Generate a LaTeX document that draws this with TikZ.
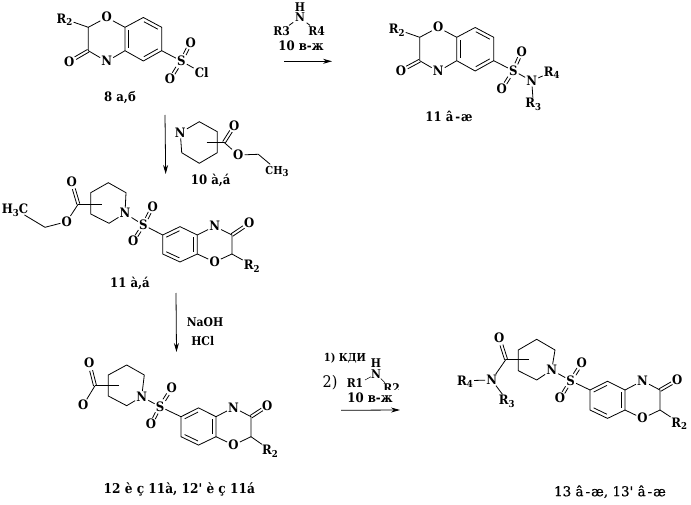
\documentclass[tikz,border=0pt]{standalone}
\usepackage{fontspec}
\setmainfont[FakeStretch=0.9,Ligatures=TeXOff]{DejaVu Serif}
\newfontfamily\widef[Ligatures=TeXOff,FakeBold=0.5]{DejaVu Serif}
\usetikzlibrary{calc,arrows.meta}
\tikzset{
  atom/.style={inner sep=1pt,font=\fontsize{13}{13}\selectfont\bfseries,text height=9pt,text depth=0pt},
  lbl/.style={inner sep=0pt,font=\fontsize{13}{14}\selectfont\bfseries},
  reag/.style={inner sep=0pt,font=\fontsize{12}{13}\selectfont\bfseries},
  bond/.style={line width=.8pt,black},
  rx/.style={line width=.8pt,-{Stealth[length=9pt,width=5pt]}}
}
\newcommand{\rsub}[1]{\raisebox{-2.5pt}{\fontsize{9.5}{9.5}\selectfont #1}}
\newcommand{\inbond}[2]{\draw[bond] ($(#1)!.12!(#2)!3.5pt!-90:(#2)$) -- ($(#2)!.12!(#1)!3.5pt!90:(#1)$);}
\newcommand{\dbond}[4]{%
  \draw[bond] ($(#1)!#3!(#2)!1.5pt!90:(#2)$) -- ($(#1)!#4!(#2)!1.5pt!90:(#2)$);
  \draw[bond] ($(#1)!#3!(#2)!1.5pt!-90:(#2)$) -- ($(#1)!#4!(#2)!1.5pt!-90:(#2)$);}
% benzoxazinone core: prefix, x, y of C4a, half width, height (both negative = rotated)
\newcommand{\core}[5]{%
  \coordinate (#1a) at (#2,#3);
  \coordinate (#1b) at ({#2},{#3-#5});
  \node[atom] (#1O) at ({#2-.5*#4},{#3-1.42*#5}) {O};
  \coordinate (#1c2) at ({#2-#4},{#3-#5});
  \coordinate (#1c3) at ({#2-#4},{#3});
  \node[atom] (#1N) at ({#2-.5*#4},{#3+.46*#5}) {N};
  \coordinate (#1c5) at ({#2+.5*#4},{#3+.44*#5});
  \coordinate (#1c6) at ({#2+#4},{#3});
  \coordinate (#1c7) at ({#2+#4},{#3-#5});
  \coordinate (#1c8) at ({#2+.5*#4},{#3-1.42*#5});
  \draw[bond] (#1a)--(#1b)--(#1c8)--(#1c7)--(#1c6)--(#1c5)--cycle;
  \draw[bond] (#1b)--(#1O)--(#1c2)--(#1c3)--(#1N)--(#1a);
  \inbond{#1a}{#1b}\inbond{#1c8}{#1c7}\inbond{#1c6}{#1c5}}
\begin{document}
\begin{tikzpicture}[x=1pt,y=-1pt]
\useasboundingbox (0,0) rectangle (691,505);
\fill[white] (0,0) rectangle (691,505);

% ---- 8
\core{A}{125}{50.7}{36.7}{23.4}
\node[atom] (AR) at (64.5,19) {R\rsub{2}};
\node[atom] (AOc) at (69.3,61.7) {O};
\node[atom] (AS) at (181.3,61) {S};
\node[atom] (AO1) at (190.7,42.7) {O};
\node[atom] (AO2) at (170,79.3) {O};
\node[atom] (ACl) at (201.7,72.7) {Cl};
\draw[bond] (AR)--(Ac2);
\dbond{Ac3}{AOc}{0}{.68}
\draw[bond] (Ac6)--(AS);\draw[bond] (AS)--(ACl);
\dbond{AS}{AO1}{.36}{.68}\dbond{AS}{AO2}{.36}{.68}
\node[lbl] (A8) at (120,97.7) {8 а,б};

% ---- reagent top
\node[reag] (RH) at (300,7) {H};
\node[reag] (RN) at (300,17.5) {N};
\node[reag] (R3) at (281.7,30.7) {R3};
\node[reag] (R4) at (316.7,30.7) {R4};
\draw[bond,shorten <=2pt,shorten >=1pt] (RN)--(R3);
\draw[bond,shorten <=2pt,shorten >=1pt] (RN)--(R4);
\node[lbl] (R10) at (301,46) {10 в-ж};
\coordinate (Ar1s) at (284,61.3);\coordinate (Ar1e) at (332,61.3);
\draw[rx] (Ar1s)--(Ar1e);

% ---- 11 top right
\core{B}{456.7}{60.7}{37}{23.4}
\node[atom] (BR) at (396.7,29.3) {R\rsub{2}};
\node[atom] (BOc) at (401,70.7) {O};
\node[atom] (BS) at (513.3,70.7) {S};
\node[atom] (BO1) at (521.7,51.7) {O};
\node[atom] (BO2) at (501.7,89.3) {O};
\node[atom] (BNs) at (531.7,81) {N};
\node[atom] (BR4) at (551.7,71.7) {R\rsub{4}};
\node[atom] (BR3) at (533.3,103.3) {R\rsub{3}};
\draw[bond] (BR)--(Bc2);
\dbond{Bc3}{BOc}{0}{.68}
\draw[bond] (Bc6)--(BS);\draw[bond] (BS)--(BNs);\draw[bond] (BNs)--(BR4);\draw[bond] (BNs)--(BR3);
\dbond{BS}{BO1}{.36}{.68}\dbond{BS}{BO2}{.36}{.68}
\node[lbl] (B11) at (449,116.7) {11 â\kern2pt-\kern1ptæ};

% ---- arrow 1 down
\coordinate (Ar2s) at (165,115);\coordinate (Ar2e) at (165.7,174);
\draw[rx] (Ar2s)--(Ar2e);

% ---- 10
\node[atom] (CN) at (180.3,132.7) {N};
\coordinate (Cr1) at (199.3,121.7);\coordinate (Cr2) at (217.3,131.7);
\coordinate (Cr3) at (217.3,152.7);\coordinate (Cr4) at (199.3,163.3);
\coordinate (Cr5) at (181.7,152.7);
\draw[bond] (CN)--(Cr1)--(Cr2)--(Cr3)--(Cr4)--(Cr5)--(CN);
\coordinate (Cs) at (206.7,142.3);\coordinate (CC) at (224,142.3);
\node[atom] (CO1) at (234.3,126) {O};
\node[atom] (CO2) at (238.3,155) {O};
\coordinate (CE) at (258.3,154.3);
\node[atom,font=\fontsize{11}{12}\selectfont\bfseries] (CMe) at (277,170) {CH\rsub{3}};
\draw[bond] (Cs)--(CC);\dbond{CC}{CO1}{0}{.68}
\draw[bond] (CC)--(CO2);\draw[bond] (CO2)--(CE);\draw[bond] (CE)--(CMe);
\node[lbl] (C10) at (210.7,180) {10 à,á};

% ---- 11 a,a
\core{D}{197.3}{235}{-34.6}{-19}
\node[atom] (DR) at (251.7,265) {R\rsub{2}};
\node[atom] (DOc) at (249.3,223.3) {O};
\node[atom] (DS) at (143.3,225) {S};
\node[atom] (DO1) at (152.7,206.7) {O};
\node[atom] (DO2) at (133.3,241) {O};
\node[atom] (DNp) at (125,213.3) {N};
\coordinate (Dr1) at (126,192.7);\coordinate (Dr2) at (108.3,182.7);
\coordinate (Dr3) at (90.7,192.7);\coordinate (Dr4) at (90.7,214);
\coordinate (Dr5) at (109,223.3);
\draw[bond] (DNp)--(Dr1)--(Dr2)--(Dr3)--(Dr4)--(Dr5)--(DNp);
\coordinate (Ds) at (101.7,204);\coordinate (DC) at (78.3,204);
\node[atom] (DO3) at (71.7,181.7) {O};
\node[atom] (DO4) at (66.7,221.7) {O};
\coordinate (DE) at (45,227.3);
\node[atom] (DMe) at (15,209.3) {H\rsub{3}C};
\draw[bond] (Ds)--(DC);\dbond{DC}{DO3}{0}{.68}
\draw[bond] (DC)--(DO4);\draw[bond] (DO4)--(DE);\draw[bond] (DE)--(DMe);
\draw[bond] (DR)--(Dc2);\dbond{Dc3}{DOc}{0}{.68}
\draw[bond] (Dc6)--(DS);\draw[bond] (DS)--(DNp);
\dbond{DS}{DO1}{.36}{.68}\dbond{DS}{DO2}{.36}{.68}
\node[lbl] (D11) at (130,283.3) {11 à,á};

% ---- arrow 2 down
\coordinate (Ar3s) at (176,293);\coordinate (Ar3e) at (176.5,352);
\draw[rx] (Ar3s)--(Ar3e);
\node[reag] (RNa) at (205,321.7) {NaOH};
\node[reag] (RHCl) at (202.7,340.7) {HCl};

% ---- 12
\core{E}{216}{416.7}{-35}{-20}
\node[atom] (ER) at (270,450) {R\rsub{2}};
\node[atom] (EOc) at (267.3,406) {O};
\node[atom] (ES) at (160,406.7) {S};
\node[atom] (EO1) at (171.7,388.3) {O};
\node[atom] (EO2) at (151,424) {O};
\node[atom] (ENp) at (141.7,396.7) {N};
\coordinate (Er1) at (144.3,375);\coordinate (Er2) at (126.7,365);
\coordinate (Er3) at (108.3,375);\coordinate (Er4) at (108.3,396);
\coordinate (Er5) at (126.7,405.7);
\draw[bond] (ENp)--(Er1)--(Er2)--(Er3)--(Er4)--(Er5)--(ENp);
\coordinate (Es) at (119,385.7);\coordinate (EC) at (95,385.7);
\node[atom] (EO3) at (89.3,363.3) {O};
\node[atom] (EO4) at (83.3,405) {O};
\draw[bond] (Es)--(EC);\dbond{EC}{EO3}{0}{.68}\draw[bond] (EC)--(EO4);
\draw[bond] (ER)--(Ec2);\dbond{Ec3}{EOc}{0}{.68}
\draw[bond] (Ec6)--(ES);\draw[bond] (ES)--(ENp);
\dbond{ES}{EO1}{.36}{.68}\dbond{ES}{EO2}{.36}{.68}
\node[lbl,font=\fontsize{13.5}{14}\selectfont\bfseries] (E12) at (179.3,489) {12 è ç 11à, 12' è ç 11á};

% ---- reagent lower
\node[reag,font=\fontsize{11}{12}\selectfont\bfseries] (S1) at (345,358) {1) КДИ};
\node[inner sep=0pt,font=\fontsize{16}{16}\selectfont] (S2) at (330,383) {2)};
\node[reag] (SH) at (376,363.3) {H};
\node[reag] (SN) at (376,374) {N};
\node[reag] (SR1) at (355,383.3) {R1};
\node[reag] (SR2) at (391.7,388) {R2};
\coordinate (Sb1) at (365,380);\coordinate (Sb2) at (385,382.7);
\draw[bond,line width=.5pt] (SN)--(Sb1);
\draw[bond,line width=.5pt] (SN)--(Sb2);
\node[lbl,fill=white,inner ysep=3.5pt,inner xsep=8pt,text height=9pt,text depth=0pt] (S10) at (370,398.3) {10 в-ж};
\coordinate (Ar4s) at (341,410.3);\coordinate (Ar4e) at (400,410);
\draw[rx] (Ar4s)--(Ar4e);

% ---- 13
\core{F}{625}{390}{-35}{-20}
\node[atom] (FR) at (679.3,422.7) {R\rsub{2}};
\node[atom] (FOc) at (677.3,380) {O};
\node[atom] (FS) at (570.7,380.7) {S};
\node[atom] (FO1) at (581.7,363.3) {O};
\node[atom] (FO2) at (560,398.3) {O};
\node[atom] (FNp) at (551.7,370) {N};
\coordinate (Fr1) at (555,350);\coordinate (Fr2) at (536.7,339.3);
\coordinate (Fr3) at (518.3,350);\coordinate (Fr4) at (518.3,370.7);
\coordinate (Fr5) at (536.7,380);
\draw[bond] (FNp)--(Fr1)--(Fr2)--(Fr3)--(Fr4)--(Fr5)--(FNp);
\coordinate (Fs) at (529,359.3);\coordinate (FC) at (506,359.3);
\node[atom] (FO3) at (499.3,338.3) {O};
\node[atom] (FNa) at (491.7,380) {N};
\node[atom] (FR4) at (465,380.7) {R\rsub{4}};
\node[atom] (FR3) at (506.7,400) {R\rsub{3}};
\draw[bond] (Fs)--(FC);\dbond{FC}{FO3}{0}{.68}\draw[bond] (FC)--(FNa);
\draw[bond] (FNa)--(FR4);\draw[bond] (FNa)--(FR3);
\draw[bond] (FR)--(Fc2);\dbond{Fc3}{FOc}{0}{.68}
\draw[bond] (Fc6)--(FS);\draw[bond] (FS)--(FNp);
\dbond{FS}{FO1}{.36}{.68}\dbond{FS}{FO2}{.36}{.68}
\node[lbl,font=\fontsize{13.5}{14}\selectfont\widef] (F13) at (610,491.7) {13 â\kern2pt-\kern1ptæ, 13' â\kern2pt-\kern1ptæ};
\end{tikzpicture}
\end{document}
